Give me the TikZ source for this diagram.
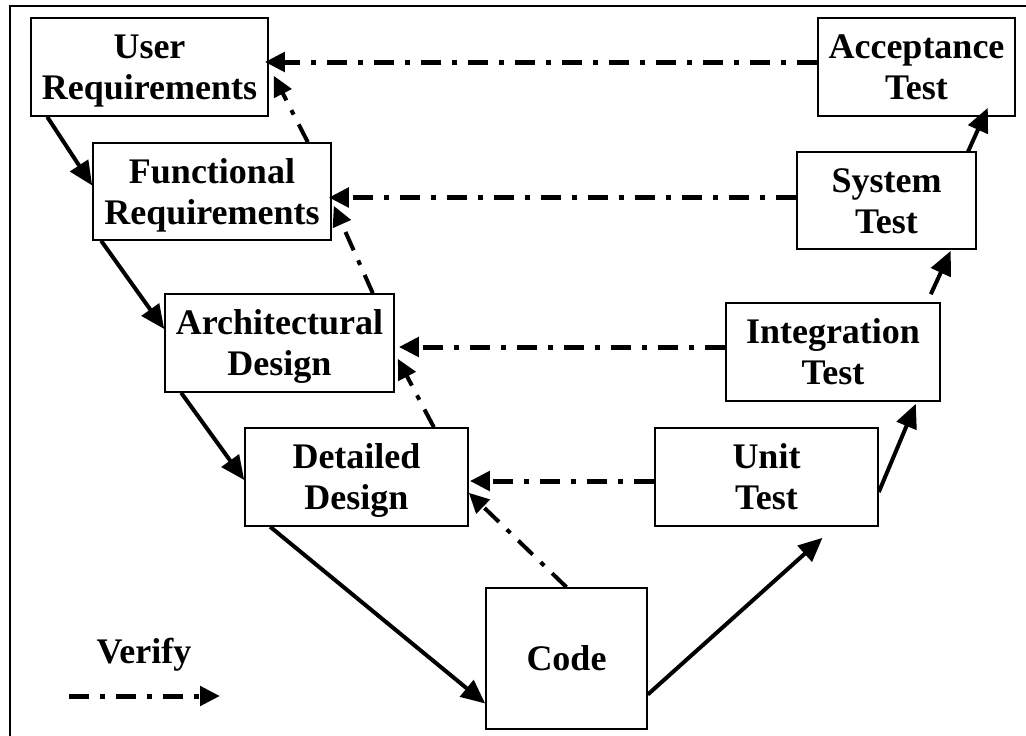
\documentclass[tikz,border=0pt]{standalone}
\usepackage{fontspec}
\setmainfont{Liberation Serif}
\usetikzlibrary{arrows.meta,calc}

\begin{document}
\begin{tikzpicture}[x=1pt,y=-1pt,
  lblfont/.style={font=\bfseries\fontsize{36}{41}\selectfont},
  box/.style={draw, line width=1.6pt, inner sep=0pt, align=center, lblfont},
  flow/.style={line width=4pt, -{Triangle[length=24pt,width=21pt]}},
  verify/.style={line width=5pt, dash pattern=on 20pt off 11pt on 5pt off 11pt,
                 -{Triangle[length=20pt,width=19pt]}},
  slant/.style={verify, line width=4pt},
]
\useasboundingbox (0,0) rectangle (1026,736);

% outer frame (top and left edges)
\draw[line width=2.5pt] (1026,6) -- (10,6) -- (10,736);

% left branch: specification and design
\node[box, minimum width=237pt, minimum height=98pt] (ur) at (149.5,67)
  {\rule{0pt}{24pt}\smash{User}\\\smash{Requirements}};
\node[box, minimum width=238pt, minimum height=97pt] (fr) at (212,191.5)
  {\rule{0pt}{24pt}\smash{Functional}\\\smash{Requirements}};
\node[box, minimum width=229pt, minimum height=98pt] (ad) at (279.5,343)
  {\rule{0pt}{24pt}\smash{Architectural}\\\smash{Design}};
\node[box, minimum width=223pt, minimum height=98pt] (dd) at (356.5,477)
  {\rule{0pt}{24pt}\smash{Detailed}\\\smash{Design}};

% bottom
\node[box, minimum width=161pt, minimum height=141pt] (code) at (566.5,658.5)
  {\rule{0pt}{24pt}\smash{Code}};

% right branch: testing
\node[box, minimum width=223pt, minimum height=98pt] (unit) at (766.5,477)
  {\rule{0pt}{24pt}\smash{Unit}\\\smash{Test}};
\node[box, minimum width=214pt, minimum height=98pt] (int) at (833,352)
  {\rule{0pt}{24pt}\smash{Integration}\\\smash{Test}};
\node[box, minimum width=179pt, minimum height=97pt] (sys) at (886.5,200.5)
  {\rule{0pt}{24pt}\smash{System}\\\smash{Test}};
\node[box, minimum width=197pt, minimum height=98pt] (acc) at (916.5,67)
  {\rule{0pt}{24pt}\smash{Acceptance}\\\smash{Test}};

% development flow down the V and back up
\draw[flow] ($(ur.south west)+(17,0)$) -- ($(fr.west)+(0,-6)$);
\draw[flow] ($(fr.south west)+(9,0)$) -- ($(ad.west)+(0,-14)$);
\draw[flow] ($(ad.south west)+(17,0)$) -- ($(dd.west)+(0,3)$);
\draw[flow] ($(dd.south west)+(26,0)$) -- ($(code.west)+(0,45)$);
\draw[flow] ($(code.east)+(0,36)$) -- ($(unit.south)+(56,11)$);
\draw[flow] ($(unit.east)+(0,15)$) -- ($(int.south east)+(-25,2)$);
\draw[flow] ($(int.north east)+(-10,-8)$) -- ($(sys.south east)+(-26,1)$);
\draw[flow] ($(sys.north east)+(-9,1)$) -- ($(acc.south east)+(-28,-9)$);

% verification links across the V
\draw[verify] ($(acc.west)+(0,-5)$) -- ($(ur.east)+(-4,-5)$);
\draw[verify] ($(sys.west)+(0,-3)$) -- ($(fr.east)+(-3,6)$);
\draw[verify] ($(int.west)+(0,-5)$) -- ($(ad.east)+(4,4)$);
\draw[verify] ($(unit.west)+(0,4)$) -- ($(dd.east)+(1,4)$);

% verification links up the left branch
\draw[slant] ($(fr.north east)+(-24,0)$) -- ($(ur.south east)+(5,-41)$);
\draw[slant] ($(ad.north east)+(-22,0)$) -- ($(fr.south east)+(2,-35)$);
\draw[slant] ($(dd.north east)+(-35,0)$) -- ($(ad.south east)+(3,-34)$);
\draw[slant] (code.north) -- ($(dd.south east)+(0,-34)$);

% legend
\node[lblfont, anchor=base, inner sep=0pt] (vlabel) at (144,663) {Verify};
\coordinate (legA) at (69,696);
\coordinate (legB) at (220,696);
\draw[verify] (legA) -- (legB);
\end{tikzpicture}
\end{document}
